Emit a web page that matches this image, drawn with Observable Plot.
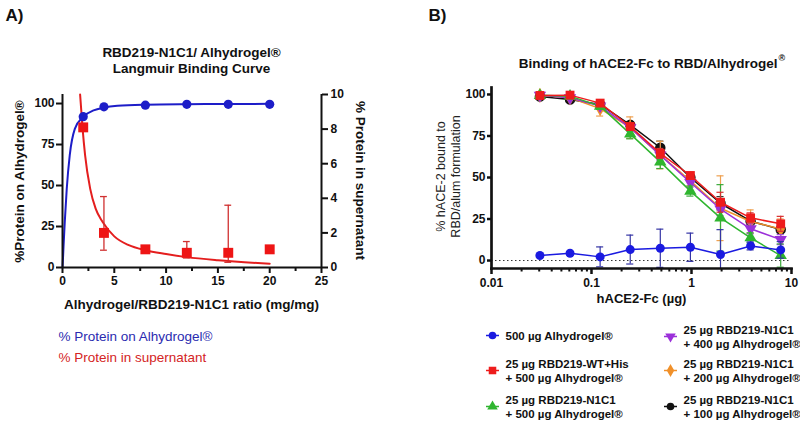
<!DOCTYPE html>
<html><head><meta charset="utf-8">
<script src="https://cdn.jsdelivr.net/npm/d3@7"></script>
<script src="https://cdn.jsdelivr.net/npm/@observablehq/plot@0.6"></script>
<style>
body{margin:0;background:#fff;}
#wrap{position:relative;width:800px;height:423px;overflow:hidden;background:#fff;}
#wrap svg{position:absolute;top:0;}
</style></head><body><div id="wrap"></div>
<script>
// ---------- Panel A data ----------
const ratioA = [2, 4, 8, 12, 16, 20];
const boundA = [92, 98, 99, 99.5, 99.5, 99.5];
const superA = [8.1, 2.0, 1.05, 0.85, 0.85, 1.05];
const superLoA = [null, 1.0, null, 0.55, 0.3, null];
const superHiA = [null, 4.1, null, 1.5, 3.6, null];
const fitBoundX = [0, 0.05, 0.1, 0.22, 0.41, 0.7, 1.19, 2, 3, 4, 5.3, 8, 12, 16, 20];
const fitBoundY = [0, 6, 13, 28, 48, 68.5, 84.5, 92, 95.8, 97.5, 98.6, 99.3, 99.6, 99.7, 99.8];
const fitSuperX = [1.7, 1.93, 2.18, 2.67, 3.2, 3.86, 5, 6.4, 8, 10, 12, 15, 20];
const fitSuperY = [10, 8.1, 6.5, 4.56, 3.4, 2.64, 1.8, 1.29, 1.0, 0.78, 0.6, 0.42, 0.22];
const xTicksA = [0, 5, 10, 15, 20, 25];
const xMinorA = [2.5, 7.5, 12.5, 17.5, 22.5];
const yTicksLeftA = [0, 25, 50, 75, 100];
const yTicksRightA = [0, 2, 4, 6, 8, 10];

// ---------- Panel B data ----------
const doseB = [0.0305, 0.061, 0.122, 0.244, 0.4875, 0.975, 1.95, 3.9, 7.8];
const seriesNames = [
  "500 µg Alhydrogel®",
  "25 µg RBD219-WT+His\n+ 500 µg Alhydrogel®",
  "25 µg RBD219-N1C1\n+ 500 µg Alhydrogel®",
  "25 µg RBD219-N1C1\n+ 400 µg Alhydrogel®",
  "25 µg RBD219-N1C1\n+ 200 µg Alhydrogel®",
  "25 µg RBD219-N1C1\n+ 100 µg Alhydrogel®"
];
const alum500 = [3.0, 4.4, 2.2, 6.6, 7.4, 8.0, 3.6, 8.8, 6.4];
const alum500Err = [0.8, 0.8, 6, 8.7, 11.5, 8.5, 15, 2.4, 5];
const wt500 = [99.4, 99.6, 94.8, 80.7, 64.5, 51.2, 35.1, 25.7, 22.1];
const wt500Err = [1, 1, 1, 2, 3, 2, 6, 3, 4.5];
const n1c1_500 = [99.5, 99, 93, 76.3, 59.4, 41.8, 25.7, 13.7, 3.0];
const n1c1_500Err = [1, 1, 2, 3, 4, 3, 20, 3, 7];
const n1c1_400 = [99.5, 98, 93, 80, 63.5, 47, 31, 19.1, 12.6];
const n1c1_400Err = [1, 1, 2, 2, 3, 3, 4, 3, 3];
const n1c1_200 = [99.5, 98, 91.5, 80, 63.5, 48, 31.5, 23.5, 19];
const n1c1_200Err = [1, 1, 4.5, 6.5, 8.3, 3, 19.5, 7, 6];
const n1c1_100 = [98.8, 97, 94, 81.7, 67.9, 50, 34.5, 23.7, 18.7];
const n1c1_100Err = [1, 1, 1, 2, 4, 2, 4, 2, 2];
const xTicksB = [0.01, 0.1, 1, 10];
const yTicksB = [0, 25, 50, 75, 100];

// ---------- styles ----------
const FONT = "'Liberation Sans', Arial, sans-serif";
const BLUE_A = "#1d1dc8", RED_A = "#e41e1e";
const sqrt3 = Math.sqrt(3);
const triangleDown = {draw(ctx, size) {
  const y = -Math.sqrt(size / (sqrt3 * 3));
  ctx.moveTo(0, -y * 2); ctx.lineTo(-sqrt3 * y, y); ctx.lineTo(sqrt3 * y, y); ctx.closePath();
}};
const legendLine = {draw(ctx) { ctx.moveTo(-6.5, 0); ctx.lineTo(6.5, 0); }};

// ---------- Panel A ----------
const mlA = 62, mtA = 94;
const k = 105.5 / 10; // right axis scale factor
const ptsA = ratioA.map((x, i) => ({x, bound: boundA[i], sup: superA[i], lo: superLoA[i], hi: superHiA[i]}));
const errA = ptsA.filter(d => d.lo != null);
const capsA = errA.flatMap(d => [{x: d.x, v: d.lo}, {x: d.x, v: d.hi}]);
const fitB = fitBoundX.map((x, i) => ({x, y: fitBoundY[i]}));
const fitS = fitSuperX.map((x, i) => ({x, y: fitSuperY[i]}));
const labA = (txt, ax, ay, o = {}) => Plot.text([txt], {text: d => d, frameAnchor: "top-left", dx: ax - mlA, dy: ay - mtA, lineAnchor: "middle", fontFamily: FONT, ...o});

const plotA = Plot.plot({
  width: 400, height: 423,
  marginLeft: mlA, marginRight: 79, marginTop: mtA, marginBottom: 156,
  x: {domain: [0, 25]},
  y: {domain: [0, 105.5]},
  style: {fontFamily: FONT, background: "transparent", color: "#111"},
  marks: [
    Plot.line(fitB, {x: "x", y: "y", stroke: BLUE_A, strokeWidth: 2, curve: "monotone-x"}),
    Plot.line(fitS, {x: "x", y: d => d.y * k, stroke: RED_A, strokeWidth: 2, curve: "monotone-x"}),
    Plot.ruleX(errA, {x: "x", y1: d => d.lo * k, y2: d => d.hi * k, stroke: "#d03030", strokeWidth: 1.3}),
    Plot.ruleY(capsA, {y: d => d.v * k, x1: d => d.x - 0.33, x2: d => d.x + 0.33, stroke: "#d03030", strokeWidth: 1.3}),
    Plot.dot(ptsA, {x: "x", y: "bound", r: 4.6, fill: BLUE_A}),
    Plot.dot(ptsA, {x: "x", y: d => d.sup * k, symbol: "square", r: 5.6, fill: "#ee1515"}),
    Plot.axisX(xTicksA, {tickSize: 6, tickPadding: 3, strokeWidth: 2, fontSize: 12, fontWeight: "bold", label: null}),
    Plot.axisX(xMinorA, {tickSize: 4, strokeWidth: 2, tickFormat: () => "", label: null}),
    Plot.axisY(yTicksLeftA, {anchor: "left", tickSize: 6, tickPadding: 2, strokeWidth: 2, fontSize: 12, fontWeight: "bold", label: null}),
    Plot.axisY(yTicksRightA.map(d => d * k), {anchor: "right", tickSize: 6, tickPadding: 3, strokeWidth: 2, fontSize: 12, fontWeight: "bold", tickFormat: d => String(Math.round(d / k)), label: null}),
    Plot.ruleX([0, 25], {stroke: "#111", strokeWidth: 2}),
    Plot.ruleY([0], {stroke: "#111", strokeWidth: 2}),
    labA("A)", 5, 15, {fontSize: 17, fontWeight: "bold", textAnchor: "start"}),
    labA("RBD219-N1C1/ Alhydrogel®\nLangmuir Binding Curve", 191, 59, {fontSize: 13.5, fontWeight: "bold", textAnchor: "middle", lineHeight: 1.2}),
    labA("%Protein on Alhydrogel®", 19, 181, {fontSize: 13.5, fontWeight: "bold", textAnchor: "middle", rotate: -90}),
    labA("% Protein in supernatant", 360, 180, {fontSize: 13.5, fontWeight: "bold", textAnchor: "middle", rotate: 90}),
    labA("Alhydrogel/RBD219-N1C1 ratio (mg/mg)", 191, 304, {fontSize: 13.5, fontWeight: "bold", textAnchor: "middle"}),
    labA("% Protein on Alhydrogel®", 58, 336, {fontSize: 13.5, textAnchor: "start", fill: "#2b2bb0"}),
    labA("% Protein in supernatant", 58, 357, {fontSize: 13.5, textAnchor: "start", fill: "#d42424"})
  ]
});
plotA.style.left = "0px";

// ---------- Panel B ----------
const mlB = 91, mtB = 87;
const colors = ["#1a1ae0", "#ee1c1c", "#2fb52f", "#9b30d9", "#f0902a", "#111111"];
const errColors = ["#3535a5", "#d83030", "#3aaa3a", "#a050d0", "#eea050", "#333333"];
const symbols = ["circle", "square", "triangle", triangleDown, "diamond", "circle"];
const radii = [4.5, 5, 4.6, 4.6, 4.6, 4.5];
const valuesB = [alum500, wt500, n1c1_500, n1c1_400, n1c1_200, n1c1_100];
const errsB = [alum500Err, wt500Err, n1c1_500Err, n1c1_400Err, n1c1_200Err, n1c1_100Err];
const rowsB = valuesB.flatMap((vals, s) => vals.map((v, i) => ({s, x: doseB[i], y: v, e: errsB[s][i]})));
const drawOrder = [5, 4, 3, 2, 1, 0];
const capF = 1.085;
const minorB = [];
for (const dec of [0.01, 0.1, 1]) for (let m = 2; m <= 9; m++) minorB.push(+(dec * m).toPrecision(3));
const legendPos = [[1, 67], [1, 102], [1, 138], [179, 68], [179, 102], [179, 138]];
const labB = (txt, ax, ay, o = {}) => Plot.text([txt], {text: d => d, frameAnchor: "top-left", dx: ax - mlB - 400, dy: ay - mtB, lineAnchor: "middle", fontFamily: FONT, ...o});

const marksB = [
  Plot.ruleY([0], {stroke: "#333", strokeWidth: 1, strokeDasharray: "1.5,2.5"})
];
for (const s of drawOrder) {
  const rows = rowsB.filter(d => d.s === s);
  marksB.push(
    Plot.ruleX(rows, {x: "x", y1: d => d.y - d.e, y2: d => d.y + d.e, stroke: errColors[s], strokeWidth: 1.2, clip: true}),
    Plot.ruleY(rows.flatMap(d => [{x: d.x, v: d.y - d.e}, {x: d.x, v: d.y + d.e}]), {y: "v", x1: d => d.x / capF, x2: d => d.x * capF, stroke: errColors[s], strokeWidth: 1.2, clip: true}),
    Plot.line(rows, {x: "x", y: "y", stroke: colors[s], strokeWidth: 1.5}),
    Plot.dot(rows, {x: "x", y: "y", symbol: symbols[s], r: radii[s], fill: colors[s], stroke: s === 5 ? "#111" : "none"})
  );
}
marksB.push(
  Plot.axisX(xTicksB, {tickSize: 6, tickPadding: 4, strokeWidth: 2.5, fontSize: 12, fontWeight: "bold", tickFormat: d => String(d), label: null}),
  Plot.axisX(minorB, {tickSize: 3.5, strokeWidth: 2, tickFormat: () => "", label: null}),
  Plot.axisY(yTicksB, {tickSize: 4, tickPadding: 2, strokeWidth: 2.5, fontSize: 12, fontWeight: "bold", label: null}),
  Plot.frame({anchor: "left", stroke: "#111", strokeWidth: 2.7}),
  Plot.frame({anchor: "bottom", stroke: "#111", strokeWidth: 2.7}),
  labB("B)", 428, 15, {fontSize: 17, fontWeight: "bold", textAnchor: "start"}),
  labB("Binding of hACE2-Fc to RBD/Alhydrogel", 777, 63, {fontSize: 13.5, fontWeight: "bold", textAnchor: "end"}),
  labB("®", 778, 58, {fontSize: 9, fontWeight: "bold", textAnchor: "start"}),
  labB("% hACE-2 bound to\nRBD/alum formulation", 447, 176, {fontSize: 12.5, textAnchor: "middle", rotate: -90, lineHeight: 1.2, fill: "#222"}),
  labB("hACE2-Fc (µg)", 641, 298, {fontSize: 13, fontWeight: "bold", textAnchor: "middle"})
);
seriesNames.forEach((name, s) => {
  const [lx, ly] = legendPos[s];
  const o = {frameAnchor: "bottom-left", dx: lx, dy: ly};
  marksB.push(
    Plot.dot([0], {...o, symbol: legendLine, r: 4, fill: "none", stroke: colors[s], strokeWidth: 1.5}),
    Plot.dot([0], {...o, symbol: symbols[s], r: radii[s] * 0.85, fill: colors[s]}),
    Plot.text([name], {...o, dx: lx + 13, text: d => d, textAnchor: "start", lineAnchor: "middle", fontFamily: FONT, fontSize: 11.5, fontWeight: "bold", lineHeight: 1.22, fill: "#111"})
  );
});

const plotB = Plot.plot({
  width: 400, height: 423,
  marginLeft: mlB, marginRight: 9, marginTop: mtB, marginBottom: 155,
  x: {type: "log", domain: [0.01, 10]},
  y: {domain: [-4.8, 104.2]},
  style: {fontFamily: FONT, background: "transparent", color: "#111", overflow: "visible"},
  marks: marksB
});
plotB.style.left = "400px";

const wrap = document.getElementById("wrap");
wrap.append(plotA, plotB);
</script></body></html>
